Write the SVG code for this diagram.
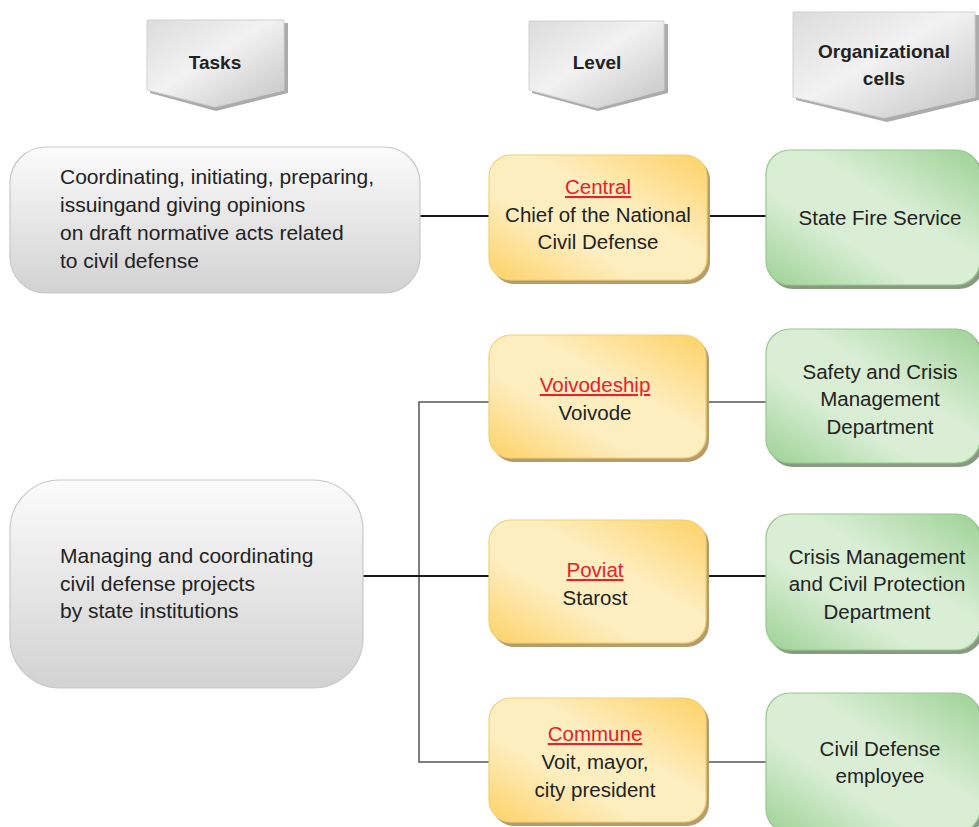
<svg xmlns="http://www.w3.org/2000/svg" width="979" height="827" viewBox="0 0 979 827">
<defs>
  <linearGradient id="gHead" x1="0" y1="0" x2="1" y2="1">
    <stop offset="0" stop-color="#dcdcdc"/>
    <stop offset="0.45" stop-color="#f2f2f2"/>
    <stop offset="1" stop-color="#c4c4c4"/>
  </linearGradient>
  <linearGradient id="gGray" x1="0" y1="0" x2="0" y2="1">
    <stop offset="0" stop-color="#fbfbfb"/>
    <stop offset="1" stop-color="#d2d2d2"/>
  </linearGradient>
  <linearGradient id="gYel" x1="0" y1="1" x2="1" y2="0">
    <stop offset="0" stop-color="#fdd266"/>
    <stop offset="0.35" stop-color="#fdeec0"/>
    <stop offset="0.6" stop-color="#fdeec0"/>
    <stop offset="1" stop-color="#fdd266"/>
  </linearGradient>
  <linearGradient id="gGrn" x1="0" y1="1" x2="1" y2="0">
    <stop offset="0" stop-color="#9dd295"/>
    <stop offset="0.35" stop-color="#d9eed5"/>
    <stop offset="0.6" stop-color="#d9eed5"/>
    <stop offset="1" stop-color="#9dd295"/>
  </linearGradient>
</defs>
<style>
  text { font-family: "Liberation Sans", Arial, sans-serif; fill: #222; }
  .hd { font-weight: bold; font-size: 19px; text-anchor: middle; }
  .t { font-size: 21px; }
  .c { font-size: 20.5px; text-anchor: middle; }
  .lv { fill: #e8202a; text-decoration: underline; }
  .head { fill: url(#gHead); stroke: #d0d0d0; stroke-width: 1; }
  .hsh { fill: #ababab; }
  .gray { fill: url(#gGray); stroke: #c8c8c8; stroke-width: 1.2; }
  .yel { fill: url(#gYel); stroke: #f4cf70; stroke-width: 1.2; }
  .ysh { fill: #b49c6c; }
  .grn { fill: url(#gGrn); stroke: #94c98c; stroke-width: 1.2; }
  .gsh { fill: #8a9a82; }
  .ln { stroke: #1a1a1a; stroke-width: 2; fill: none; }
  .ln2 { stroke: #555; stroke-width: 1.5; fill: none; }
</style>

<g id="connectors">
  <line class="ln" x1="420" y1="216" x2="490" y2="216"/>
  <line class="ln" x1="707" y1="216" x2="766" y2="216"/>
  <polyline class="ln2" points="489,402 419,402 419,762 489,762"/>
  <line class="ln" x1="363" y1="576" x2="489" y2="576"/>
  <line class="ln2" x1="706" y1="402" x2="766" y2="402"/>
  <line class="ln" x1="706" y1="576" x2="766" y2="576"/>
  <line class="ln2" x1="706" y1="762" x2="766" y2="762"/>
</g>

<g id="header-tasks">
  <polygon class="hsh" points="150,23 288,23 288,93 216,111 150,93"/>
  <polygon class="head" points="147,20 284,20 284,90 215,107 147,90"/>
  <text class="hd" x="215" y="69">Tasks</text>
</g>
<g id="header-level">
  <polygon class="hsh" points="532,24 668,24 668,93 598,111 532,93"/>
  <polygon class="head" points="529,21 664,21 664,90 597,108 529,90"/>
  <text class="hd" x="597" y="69">Level</text>
</g>
<g id="header-cells">
  <polygon class="hsh" points="796,15 979,15 979,100 887,122 796,100"/>
  <polygon class="head" points="793,12 975,12 975,97 884,118 793,97"/>
  <text class="hd" x="884" y="58">Organizational</text>
  <text class="hd" x="884" y="85">cells</text>
</g>

<g id="task-1">
  <rect class="gray" x="10" y="147" width="410" height="146" rx="36"/>
  <text class="t" x="60" y="184">Coordinating, initiating, preparing,</text>
  <text class="t" x="60" y="212">issuingand giving opinions</text>
  <text class="t" x="60" y="240">on draft normative acts related</text>
  <text class="t" x="60" y="268">to civil defense</text>
</g>
<g id="task-2">
  <rect class="gray" x="10" y="480" width="353" height="208" rx="50"/>
  <text class="t" x="60" y="563">Managing and coordinating</text>
  <text class="t" x="60" y="591">civil defense projects</text>
  <text class="t" x="60" y="618">by state institutions</text>
</g>

<g id="level-central">
  <rect class="ysh" x="492" y="158" width="218" height="126" rx="22"/>
  <rect class="yel" x="489" y="155" width="218" height="125" rx="22"/>
  <text class="c lv" x="598" y="194">Central</text>
  <text class="c" x="598" y="222">Chief of the National</text>
  <text class="c" x="598" y="249">Civil Defense</text>
</g>
<g id="level-voivodeship">
  <rect class="ysh" x="492" y="338" width="217" height="124" rx="22"/>
  <rect class="yel" x="489" y="335" width="217" height="123" rx="22"/>
  <text class="c lv" x="595" y="392">Voivodeship</text>
  <text class="c" x="595" y="420">Voivode</text>
</g>
<g id="level-poviat">
  <rect class="ysh" x="492" y="523" width="217" height="124" rx="22"/>
  <rect class="yel" x="489" y="520" width="217" height="123" rx="22"/>
  <text class="c lv" x="595" y="577">Poviat</text>
  <text class="c" x="595" y="605">Starost</text>
</g>
<g id="level-commune">
  <rect class="ysh" x="492" y="701" width="217" height="125" rx="22"/>
  <rect class="yel" x="489" y="698" width="217" height="124" rx="22"/>
  <text class="c lv" x="595" y="741">Commune</text>
  <text class="c" x="595" y="769">Voit, mayor,</text>
  <text class="c" x="595" y="797">city president</text>
</g>

<g id="cell-fire">
  <rect class="gsh" x="769" y="153" width="214" height="136" rx="24"/>
  <rect class="grn" x="766" y="150" width="214" height="135" rx="24"/>
  <text class="c" x="880" y="225">State Fire Service</text>
</g>
<g id="cell-safety">
  <rect class="gsh" x="769" y="332" width="214" height="135" rx="24"/>
  <rect class="grn" x="766" y="329" width="214" height="134" rx="24"/>
  <text class="c" x="880" y="379">Safety and Crisis</text>
  <text class="c" x="880" y="406">Management</text>
  <text class="c" x="880" y="434">Department</text>
</g>
<g id="cell-crisis">
  <rect class="gsh" x="769" y="517" width="214" height="137" rx="24"/>
  <rect class="grn" x="766" y="514" width="214" height="136" rx="24"/>
  <text class="c" x="877" y="564">Crisis Management</text>
  <text class="c" x="877" y="591">and Civil Protection</text>
  <text class="c" x="877" y="619">Department</text>
</g>
<g id="cell-employee">
  <rect class="gsh" x="769" y="696" width="214" height="140" rx="24"/>
  <rect class="grn" x="766" y="693" width="214" height="140" rx="24"/>
  <text class="c" x="880" y="756">Civil Defense</text>
  <text class="c" x="880" y="783">employee</text>
</g>
</svg>
